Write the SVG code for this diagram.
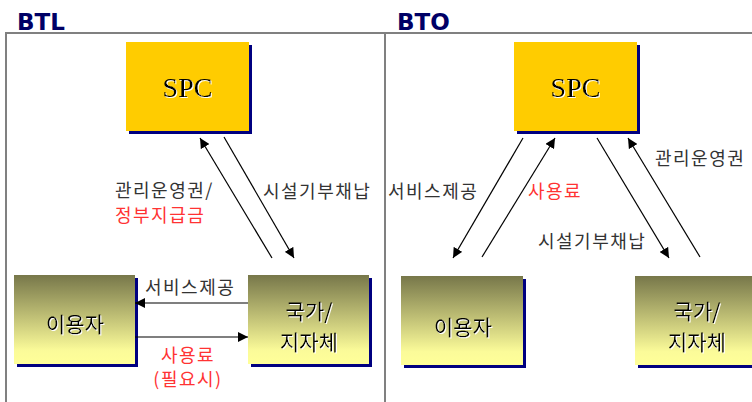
<svg xmlns="http://www.w3.org/2000/svg" width="752" height="402" viewBox="0 0 752 402">
<style>
.title{font-family:"DejaVu Sans",Verdana,sans-serif;font-weight:bold;font-size:23px;fill:#000066}
.spc{font-family:"Liberation Serif","Times New Roman",serif;font-size:28px;text-anchor:middle;filter:url(#emb)}
.box{font-family:"Noto Sans CJK KR",sans-serif;font-size:21px;text-anchor:middle;filter:url(#emb)}
.lbl{font-family:"Noto Sans CJK KR",sans-serif;font-size:18px;fill:#333333;letter-spacing:1.5px}
.red{fill:#ff3333}
.conn line{stroke:#000;stroke-width:1.2;marker-end:url(#ah)}
.frame{stroke:#808080;stroke-width:2;fill:none}
</style>
<defs>
<filter id="emb" x="-10%" y="-10%" width="130%" height="130%">
<feFlood flood-color="#fff" result="w"/>
<feComposite in="w" in2="SourceAlpha" operator="in" result="ws"/>
<feOffset in="ws" dx="1" dy="1" result="off"/>
<feMerge><feMergeNode in="off"/><feMergeNode in="SourceGraphic"/></feMerge>
</filter>
<linearGradient id="g" x1="0" y1="0" x2="0" y2="1">
<stop offset="0" stop-color="#77774a"/>
<stop offset="0.85" stop-color="#fbfb99"/>
<stop offset="1" stop-color="#ffff99"/>
</linearGradient>
<marker id="ah" viewBox="0 0 10 10" refX="10" refY="5" markerWidth="10" markerHeight="10" markerUnits="userSpaceOnUse" orient="auto">
<path d="M0,0 L10,5 L0,10 z" fill="#000"/>
</marker>
</defs>
<rect width="752" height="402" fill="#fff"/>
<text class="title" x="17" y="30">BTL</text>
<text class="title" x="397" y="30">BTO</text>
<path class="frame" d="M6,402 V33 H752 M385,33 V402"/>

<g id="spc-btl">
<rect x="129" y="45" width="123" height="89" fill="#000080"/>
<rect x="126" y="42" width="123" height="89" fill="#ffcc00"/>
<text class="spc" x="187.5" y="97">SPC</text>
</g>
<g id="user-btl">
<rect x="17" y="278" width="121" height="89" fill="#000080"/>
<rect x="14" y="275" width="121" height="89" fill="url(#g)"/>
<text class="box" x="75" y="332">이용자</text>
</g>
<g id="gov-btl">
<rect x="251" y="278" width="121" height="89" fill="#000080"/>
<rect x="248" y="275" width="121" height="89" fill="url(#g)"/>
<text class="box" x="309" y="319">국가/</text>
<text class="box" x="309" y="350">지자체</text>
</g>

<g id="spc-bto">
<rect x="517" y="45" width="123" height="89" fill="#000080"/>
<rect x="514" y="42" width="123" height="89" fill="#ffcc00"/>
<text class="spc" x="575.5" y="97">SPC</text>
</g>
<g id="user-bto">
<rect x="404" y="279" width="122" height="89" fill="#000080"/>
<rect x="401" y="276" width="122" height="89" fill="url(#g)"/>
<text class="box" x="463" y="335">이용자</text>
</g>
<g id="gov-bto">
<rect x="638" y="279" width="122" height="89" fill="#000080"/>
<rect x="635" y="276" width="122" height="89" fill="url(#g)"/>
<text class="box" x="697" y="319">국가/</text>
<text class="box" x="697" y="350">지자체</text>
</g>

<g id="connectors" class="conn">
<line x1="272" y1="258" x2="200" y2="138"/>
<line x1="224" y1="137" x2="294" y2="258"/>
<line x1="248" y1="303" x2="135" y2="303"/>
<line x1="135" y1="337" x2="248" y2="337"/>
<line x1="523" y1="138" x2="453" y2="258"/>
<line x1="482" y1="257" x2="555" y2="138"/>
<line x1="597" y1="138" x2="669" y2="258"/>
<line x1="700" y1="257" x2="628" y2="138"/>
</g>

<g id="labels">
<text class="lbl" x="115" y="197">관리운영권/</text>
<text class="lbl red" x="115" y="222">정부지급금</text>
<text class="lbl" x="263" y="198">시설기부채납</text>
<text class="lbl" x="145" y="294">서비스제공</text>
<text class="lbl red" x="188" y="362" text-anchor="middle">사용료</text>
<text class="lbl red" x="188" y="386" text-anchor="middle">(필요시)</text>
<text class="lbl" x="388" y="198">서비스제공</text>
<text class="lbl red" x="528" y="198">사용료</text>
<text class="lbl" x="655" y="165">관리운영권</text>
<text class="lbl" x="538" y="248">시설기부채납</text>
</g>
</svg>
